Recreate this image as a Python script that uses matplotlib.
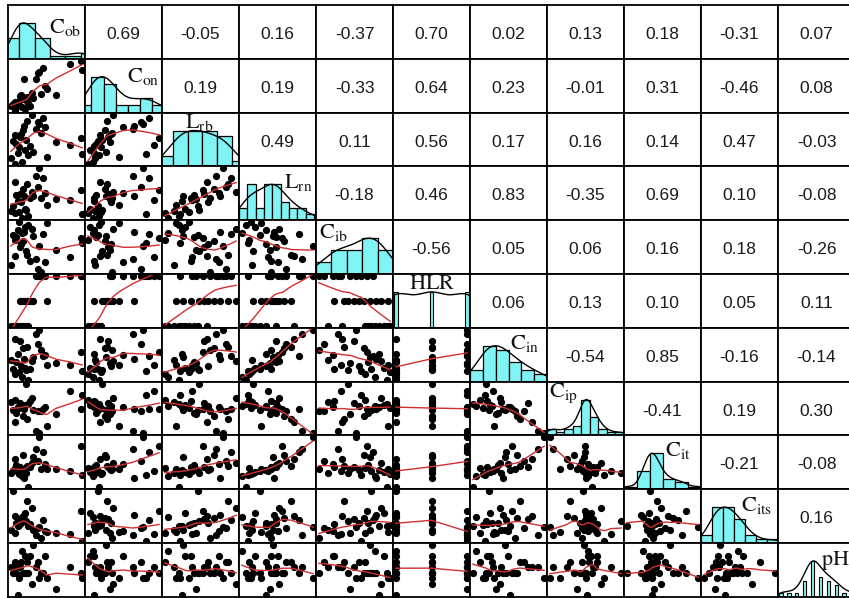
import matplotlib.pyplot as plt
import numpy as np

plt.rcParams['mathtext.fontset'] = 'stix'

names = ['Cob', 'Con', 'Lrb', 'Lrn', 'Cib', 'HLR', 'Cin', 'Cip', 'Cit', 'Cits', 'pH']
labels = [r'$\mathrm{C_{ob}}$', r'$\mathrm{C_{on}}$', r'$\mathrm{L_{rb}}$', r'$\mathrm{L_{rn}}$',
          r'$\mathrm{C_{ib}}$', r'$\mathrm{HLR}$', r'$\mathrm{C_{in}}$', r'$\mathrm{C_{ip}}$',
          r'$\mathrm{C_{it}}$', r'$\mathrm{C_{its}}$', r'$\mathrm{pH}$']

cob = [22, 26, 17.5, 19.5, 14.5, 24, 16, 19, 17, 18,
       29, 24.5, 38, 21, 27, 23, 20.5, 28, 22.5, 25,
       53, 34, 61, 37, 60.2, 32, 44, 35.5, 31, 33]
con = [11, 16, 7, 18, 13, 9, 15, 12, 17, 14,
       22, 19, 33, 26, 12.5, 45, 24, 28, 21, 23,
       62, 27, 55, 36, 66, 51, 25, 58, 44, 53]
lrb = [17, 24, 14.7, 31, 21, 28.5, 37, 26, 43, 34,
       27, 38, 22, 44, 32, 52, 41, 62.7, 48, 57,
       33, 45, 25, 51, 40.5, 56, 36, 59, 49, 54]
lrn = [0.34, 0.8, 1.2, 1.4, 1.6, 1.9, 2.5, 3.3, 6.6, 4.4,
       4.1, 1.7, 2.6, 3.2, 3.8, 4.2, 4.5, 4.8, 5.4, 6.3,
       3.5, 3.9, 1.1, 4.7, 5.2, 5.7, 3.7, 7.2, 7.6, 8.92]
cib = [48, 56, 42, 58.15, 18, 54, 46, 51, 27, 44,
       45, 31, 57, 38, 22, 49, 35, 52, 41, 28,
       26, 11.85, 39, 21, 43, 15, 32, 47, 24, 36]
hlr = [0.5, 0.5, 0.5, 0.5, 0.5, 0.5, 0.5, 0.5, 0.5, 0.5,
       1.0, 1.0, 1.0, 1.0, 1.0, 1.0, 1.0, 1.0, 1.0, 1.0,
       1.5, 1.5, 1.5, 1.5, 1.5, 1.5, 1.5, 1.5, 1.5, 1.5]
cin = [0.5, 0.22, 0.8, 1.05, 2.4, 1.55, 1.45, 3.1, 4.8, 2.15,
       2.7, 1.25, 1.9, 1.7, 1.35, 2.55, 4.5, 2.3, 3.7, 3.9,
       1.8, 3.5, 1.15, 2.95, 3.3, 4.2, 2.05, 2.8, 5.3, 5.78]
cip = [4.85, 5.3, 5.9, 4.6, 5.6, 5.1, 4.2, 4.7, 2.3, 3.8,
       4.3, 8.67, 1.5, 4.95, 5.8, 4.5, 5.4, 6.3, 3.2, 2.7,
       7.5, 4.05, 6.7, 4.8, 4.45, 4.1, 3.5, 4.4, 0.7, 0.33]
cit = [1.5, 0.22, 2.4, 1.7, 1.8, 1.95, 2.05, 2.15, 3.4, 2.7,
       3.6, 1.85, 2.2, 2.1, 2.45, 1.3, 2.5, 2.9, 3.8, 2.6,
       2.0, 2.25, 1.6, 2.8, 4.8, 3.2, 2.3, 4.2, 4.5, 5.78]
cits = [3.4, 2.25, 1.35, 2.35, 1.65, 3.85, 6.74, 2.15, 3.55, 2.65,
        1.75, 2.8, 1.45, 2.55, 2.45, 3.7, 3.1, 4.6, 3.25, 5.4,
        1.15, 0.7, 0.26, 1.55, 4.2, 1.9, 1.25, 2.95, 1.05, 2.05]
ph = [7.3, 6.9, 7.1, 6.8, 7.0, 7.2, 6.9, 6.5, 7.0, 6.9,
      7.4, 6.9, 6.8, 7.1, 7.2, 6.9, 7.0, 6.7, 6.9, 7.1,
      7.0, 6.9, 6.8, 7.2, 6.9, 7.1, 6.6, 6.9, 7.0, 6.8]

# correlations printed in the upper triangle, row by row
corr_rows = [
    ['0.69', '-0.05', '0.16', '-0.37', '0.70', '0.02', '0.13', '0.18', '-0.31', '0.07'],
    ['0.19', '0.19', '-0.33', '0.64', '0.23', '-0.01', '0.31', '-0.46', '0.08'],
    ['0.49', '0.11', '0.56', '0.17', '0.16', '0.14', '0.47', '-0.03'],
    ['-0.18', '0.46', '0.83', '-0.35', '0.69', '0.10', '-0.08'],
    ['-0.56', '0.05', '0.06', '0.16', '0.18', '-0.26'],
    ['0.06', '0.13', '0.10', '0.05', '0.11'],
    ['-0.54', '0.85', '-0.16', '-0.14'],
    ['-0.41', '0.19', '0.30'],
    ['-0.21', '-0.08'],
    ['0.16'],
]

data = [np.array(v, dtype=float) for v in (cob, con, lrb, lrn, cib, hlr, cin, cip, cit, cits, ph)]

# histogram bin width per variable (None = discrete, drawn as thin bars)
bin_width = [10, 10, 10, 1, 10, None, 1, 1, 1, 1, None]
# label placement inside the diagonal panels: x, baseline y, alignment
label_pos = [(0.95, 0.48, 'right'), (0.97, 0.57, 'right'), (0.485, 0.72, 'center'),
             (0.95, 0.60, 'right'), (0.04, 0.67, 'left'), (0.51, 0.72, 'center'),
             (0.90, 0.60, 'right'), (0.03, 0.72, 'left'), (0.87, 0.61, 'right'),
             (0.92, 0.59, 'right'), (0.56, 0.59, 'left')]

hist_col = '#80f4f4'
smooth_col = '#d03030'


def lowess(x, y, f=2/3, iters=3):
    o = np.argsort(x, kind='stable')
    x, y = x[o], y[o]
    n = len(x)
    ns = max(min(int(f * n + 1e-7), n), 2)
    rob = np.ones(n)
    fit = y.copy()
    for it in range(iters + 1):
        for i in range(n):
            d = np.abs(x - x[i])
            h = np.sort(d)[ns - 1]
            if h <= 0:
                h = 1e-12
            r = d / h
            w = np.where(r < 0.999, (1 - np.clip(r, 0, 1) ** 3) ** 3, 0.0) * rob
            sw = w.sum()
            if sw <= 0:
                fit[i] = y[i]
                continue
            xm = (w * x).sum() / sw
            ym = (w * y).sum() / sw
            sxx = (w * (x - xm) ** 2).sum()
            b = (w * (x - xm) * (y - ym)).sum() / sxx if sxx > 1e-10 else 0.0
            fit[i] = ym + b * (x[i] - xm)
        if it == iters:
            break
        res = y - fit
        s = 6 * np.median(np.abs(res))
        if s < 1e-7:
            break
        u = np.clip(res / s, -1, 1)
        rob = (1 - u ** 2) ** 2
    return x, fit


def padded(v):
    lo, hi = v.min(), v.max()
    p = 0.04 * (hi - lo)
    return lo - p, hi + p


def density(v):
    q1, q3 = np.percentile(v, [25, 75])
    bw = 1.06 * min(v.std(ddof=1), (q3 - q1) / 1.34) * len(v) ** -0.2
    g = np.linspace(v.min() - 3 * bw, v.max() + 3 * bw, 512)
    d = np.exp(-0.5 * ((g[:, None] - v[None, :]) / bw) ** 2).sum(axis=1)
    return g, d / d.max()


fig = plt.figure(figsize=(8.49, 5.98), dpi=100)
n = len(names)
x0, y0, cw, rh = 8, 5, 77, 53.8
W, H = 849, 598

for i in range(n):
    for j in range(n):
        ax = fig.add_axes([(x0 + cw * j) / W, 1 - (y0 + rh * (i + 1)) / H, cw / W, rh / H])
        ax.set_xticks([])
        ax.set_yticks([])
        for s in ax.spines.values():
            s.set_linewidth(1.3)
            s.set_color('black')
        if i == j:
            v = data[i]
            ax.set_xlim(padded(v))
            ax.set_ylim(0, 1.5)
            if bin_width[i] is None:
                vals, cnt = np.unique(v, return_counts=True)
                half = np.min(np.diff(vals)) * (len(vals) - 1) / 41
                ax.bar(vals, cnt / cnt.max(), width=2 * half, color=hist_col,
                       edgecolor='black', linewidth=0.8)
            else:
                w = bin_width[i]
                edges = np.arange(np.floor(v.min() / w) * w, np.ceil(v.max() / w) * w + w / 2, w)
                cnt, edges = np.histogram(v, bins=edges)
                ax.bar(edges[:-1], cnt / cnt.max(), width=w, align='edge', color=hist_col,
                       edgecolor='black', linewidth=0.9)
            g, d = density(v)
            ax.plot(g, d, color='black', linewidth=1.0)
            lx, ly, ha = label_pos[i]
            ax.text(lx, ly, labels[i], transform=ax.transAxes, ha=ha, va='baseline',
                    fontsize=16, color='#111111')
        elif j > i:
            ax.text(0.5, 0.45, corr_rows[i][j - i - 1], transform=ax.transAxes,
                    ha='center', va='center', fontsize=12.5, color='#1a1a1a',
                    family='Liberation Sans')
        else:
            xv, yv = data[j], data[i]
            ax.set_xlim(padded(xv))
            ax.set_ylim(padded(yv))
            ax.plot(xv, yv, 'o', ms=4.2, color='black', mec='black')
            sx, sy = lowess(xv, yv)
            ax.plot(sx, sy, color=smooth_col, linewidth=1.0)

fig.savefig('out.png', dpi=100)
